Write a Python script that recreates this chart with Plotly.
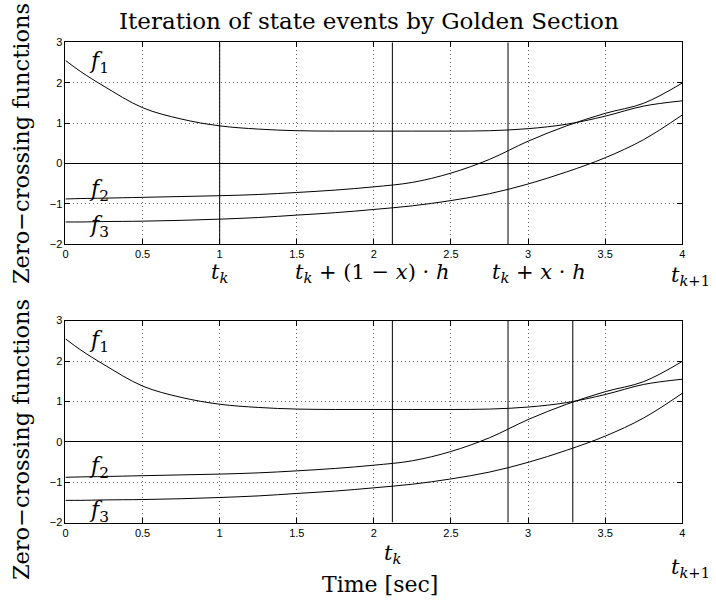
import plotly.graph_objects as go

# Sample times and the three zero-crossing functions
t = [0.0, 0.1, 0.25, 0.5, 0.75, 1.0, 1.25, 1.5, 1.75, 2.0, 2.25, 2.5, 2.75,
     3.0, 3.25, 3.5, 3.75, 4.0]
f1 = [2.55, 2.27, 1.91, 1.38, 1.10, 0.93, 0.85, 0.81, 0.80, 0.80, 0.80, 0.80,
      0.81, 0.86, 0.97, 1.17, 1.42, 1.55]
f2 = [-0.88, -0.87, -0.86, -0.84, -0.82, -0.80, -0.77, -0.72, -0.66, -0.58,
      -0.47, -0.24, 0.10, 0.55, 0.93, 1.24, 1.49, 1.99]
f3 = [-1.45, -1.45, -1.44, -1.43, -1.41, -1.38, -1.34, -1.28, -1.22, -1.14,
      -1.05, -0.92, -0.75, -0.51, -0.21, 0.14, 0.59, 1.20]

# Event times marked in each iteration step
events_top = [1.0, 2.12, 2.87]
events_bottom = [2.12, 2.87, 3.29]

x_ticks = [0, 0.5, 1, 1.5, 2, 2.5, 3, 3.5, 4]
x_tick_text = ["0", "0.5", "1", "1.5", "2", "2.5", "3", "3.5", "4"]
y_ticks = [-2, -1, 0, 1, 2, 3]
y_tick_text = ["−2", "−1", "0", "1", "2", "3"]

NB = "\u00a0"
TK = "<i>t</i><sub><i>k</i></sub>"
TK1 = "<i>t</i><sub><i>k</i>+1</sub>"
labels_top = [(1.0, TK),
              (1.99, TK + NB + "+" + NB + "(1" + NB + "−" + NB + "<i>x</i>)" + NB + "·" + NB + "<i>h</i>"),
              (3.07, TK + NB + "+" + NB + "<i>x</i>" + NB + "·" + NB + "<i>h</i>")]
labels_bottom = [(2.12, TK)]

SERIF = "DejaVu Serif, serif"
SANS = "Liberation Sans, Arial, sans-serif"

W, H = 716, 605
x_dom = [63 / W, 685 / W]
top_dom = [1 - 243 / H, 1 - 37 / H]
bot_dom = [1 - 527 / H, 1 - 321 / H]

fig = go.Figure()

for xa, ya, events in [("x", "y", events_top), ("x2", "y2", events_bottom)]:
    for ys in (f1, f2, f3):
        fig.add_trace(go.Scatter(x=t, y=ys, mode="lines", xaxis=xa, yaxis=ya,
                                 line=dict(color="black", width=1, shape="spline"),
                                 showlegend=False, hoverinfo="skip"))
    for te in events:
        fig.add_trace(go.Scatter(x=[te, te], y=[-2, 3], mode="lines", xaxis=xa, yaxis=ya,
                                 line=dict(color="black", width=1),
                                 showlegend=False, hoverinfo="skip"))

def xaxis(domain, anchor):
    return dict(domain=domain, anchor=anchor, range=[0, 4], tickvals=x_ticks,
                ticktext=x_tick_text, ticks="inside", ticklen=5, tickcolor="black",
                showline=True, linecolor="black", linewidth=1, mirror="allticks",
                showgrid=True, gridcolor="#666", griddash="1px,3px", gridwidth=1,
                zeroline=False, tickfont=dict(family=SANS, size=11, color="black"))

def yaxis(domain, anchor):
    return dict(domain=domain, anchor=anchor, range=[-2, 3], tickvals=y_ticks,
                ticktext=y_tick_text, ticks="inside", ticklen=5, tickcolor="black",
                showline=True, linecolor="black", linewidth=1, mirror="allticks",
                showgrid=True, gridcolor="#666", griddash="1px,3px", gridwidth=1,
                zeroline=True, zerolinecolor="black", zerolinewidth=1,
                tickfont=dict(family=SANS, size=11, color="black"))

fig.update_layout(
    width=W, height=H, margin=dict(l=0, r=0, t=0, b=0),
    plot_bgcolor="white", paper_bgcolor="white",
    xaxis=xaxis(x_dom, "y"), yaxis=yaxis(top_dom, "x"),
    xaxis2=xaxis(x_dom, "y2"), yaxis2=yaxis(bot_dom, "x2"),
)

ann = []
ann.append(dict(text="Iteration of state events by Golden Section", x=369 / W, y=1 - 15 / H,
                xref="paper", yref="paper", showarrow=False,
                xanchor="center", yanchor="middle",
                font=dict(family=SERIF, size=23, color="black")))
for yc in (140, 442):
    ann.append(dict(text="Zero−crossing functions", x=18 / W, y=1 - yc / H,
                    xref="paper", yref="paper", showarrow=False, textangle=-90,
                    xanchor="center", yanchor="middle",
                    font=dict(family=SERIF, size=22.5, color="black")))
for xv, txt in labels_top:
    ann.append(dict(text=txt, x=xv, y=1 - 272 / H, xref="x", yref="paper",
                    showarrow=False, xanchor="center", yanchor="middle",
                    font=dict(family=SERIF, size=21, color="black")))
for xv, txt in labels_bottom:
    ann.append(dict(text=txt, x=xv, y=1 - 559 / H, xref="x2", yref="paper",
                    showarrow=False, xanchor="center", yanchor="middle",
                    font=dict(family=SERIF, size=21, color="black")))
# Right-end label sits just past the axis end, so it is placed in paper space
for yc in (275, 573):
    ann.append(dict(text=TK1, x=693 / W, y=1 - yc / H, xref="paper", yref="paper",
                    showarrow=False, xanchor="center", yanchor="middle",
                    font=dict(family=SERIF, size=21, color="black")))
ann.append(dict(text="Time [sec]", x=380 / W, y=1 - 590 / H, xref="paper", yref="paper",
                showarrow=False, xanchor="center", yanchor="middle",
                font=dict(family=SERIF, size=22, color="black")))

# Curve labels
for xa, ya, pos in [("x", "y", [2.49, -0.67, -1.56]), ("x2", "y2", [2.49, -0.64, -1.72])]:
    for i, yv in enumerate(pos):
        ann.append(dict(text="<i>f</i><sub>%d</sub>" % (i + 1), x=0.22, y=yv,
                        xref=xa, yref=ya, showarrow=False,
                        xanchor="center", yanchor="middle",
                        font=dict(family=SERIF, size=22, color="black")))

fig.update_layout(annotations=ann)
fig.write_html("out.html")
